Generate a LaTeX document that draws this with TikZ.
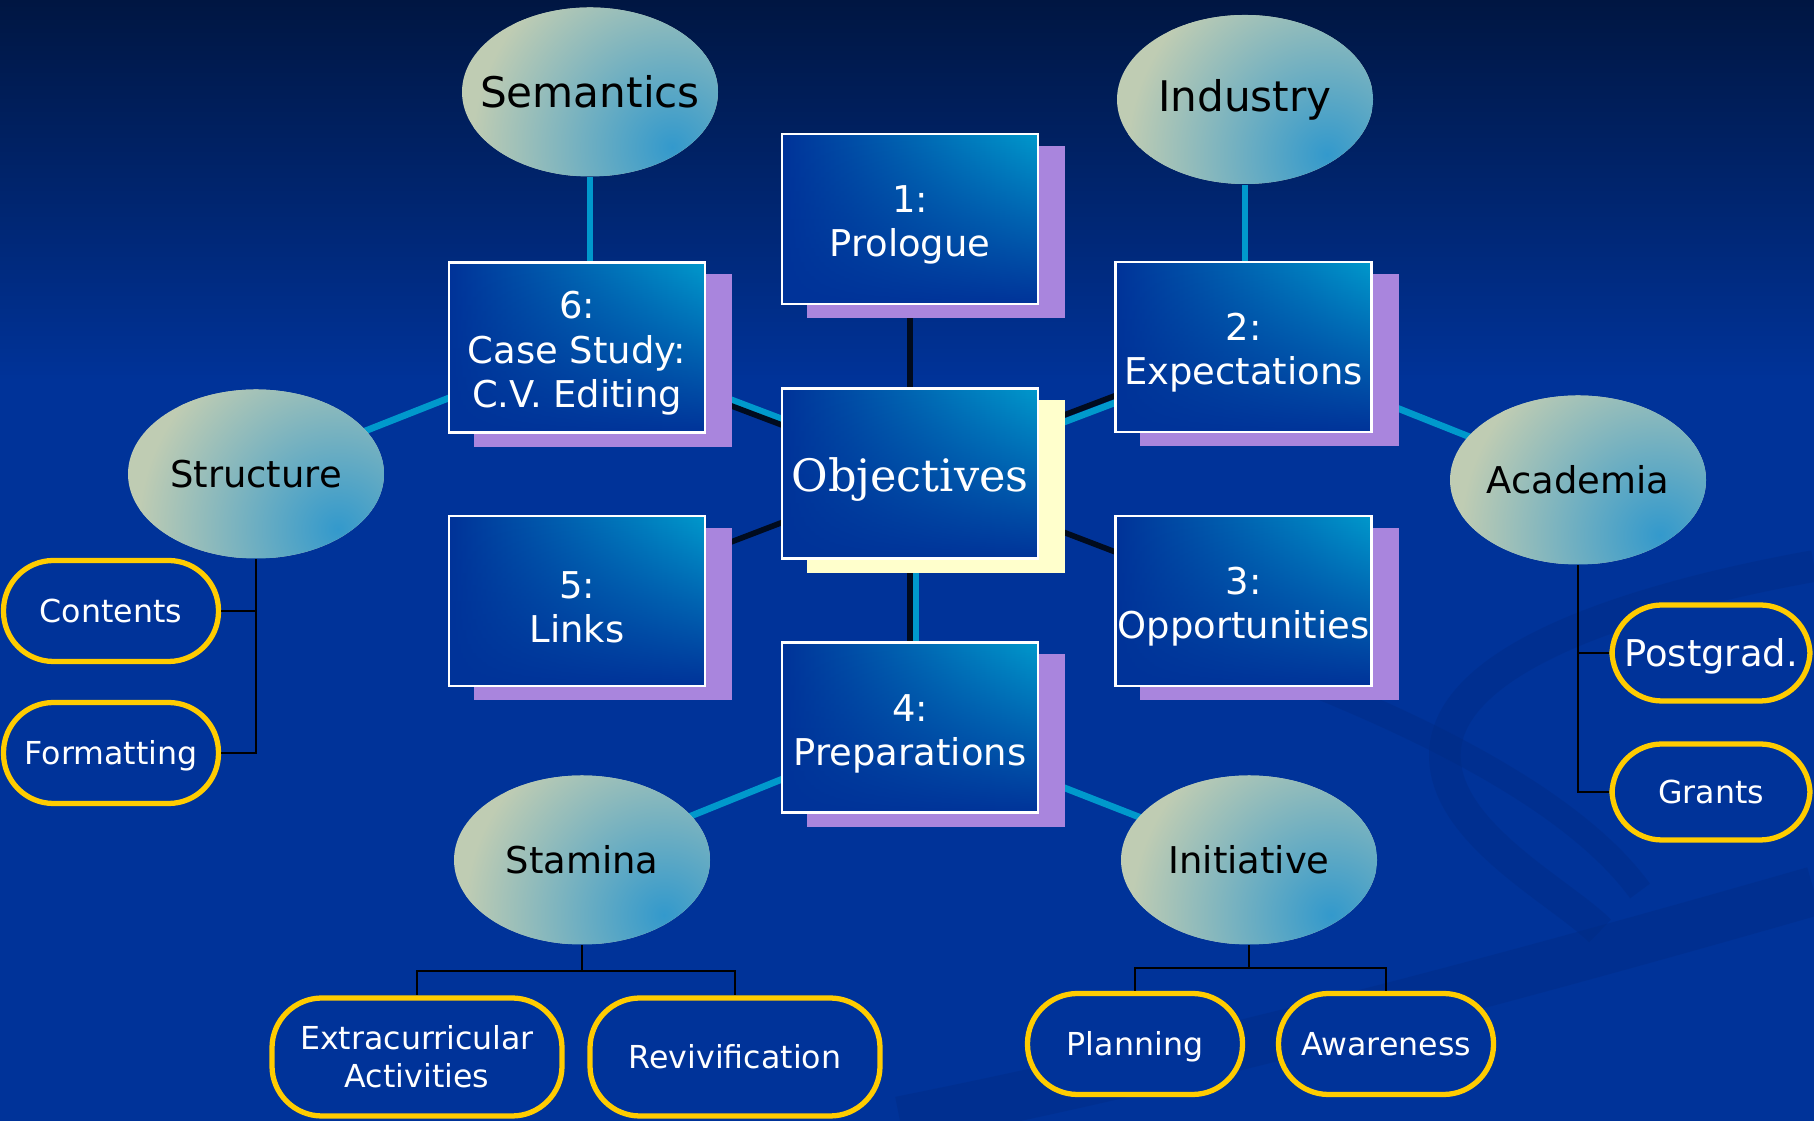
\documentclass[tikz,border=0pt]{standalone}
\usepackage{fontspec}
\setmainfont{DejaVu Sans}
\newfontfamily\objfont{DejaVu Serif}
\usetikzlibrary{shapes,fadings}
\definecolor{bgblue}{HTML}{003399}
\definecolor{bgtop}{HTML}{001642}
\definecolor{swirlblue}{HTML}{002A80}
\definecolor{boxcyan}{HTML}{0099CC}
\definecolor{lilac}{HTML}{A985DD}
\definecolor{cream}{HTML}{FFFFCC}
\definecolor{sage}{HTML}{BFCCB3}
\definecolor{ballcyan}{HTML}{3399CC}
\definecolor{linkcyan}{HTML}{0099CC}
\definecolor{linkdark}{HTML}{000B1E}
\definecolor{pillgold}{HTML}{FFCC00}
\newcommand{\topicstrut}{\rule{0pt}{0.39cm}}
\pgfdeclarelayer{bg}
\pgfdeclarelayer{links}
\pgfdeclarelayer{shade}
\pgfsetlayers{bg,links,shade,main}
\tikzset{
  topic/.style={rectangle, minimum width=2.56cm, minimum height=1.70cm, inner sep=0pt,
    draw=white, line width=0.7pt, text=white, align=center,
    font=\fontsize{10.5}{12.6}\selectfont,
    path picture={
      \shade[left color=bgblue, right color=boxcyan] (path picture bounding box.south west) rectangle (path picture bounding box.north east);
      \fill[bgblue, path fading=north] (path picture bounding box.south west) rectangle (path picture bounding box.north east);
    }},
  ball/.style={ellipse, minimum width=2.56cm, minimum height=1.69cm, inner xsep=-0.6cm, inner ysep=0pt,
    text=black, font=\fontsize{10.5}{12.6}\selectfont,
    path picture={
      \fill[sage] (path picture bounding box.south west) rectangle (path picture bounding box.north east);
      \shade[inner color=ballcyan, outer color=sage] ([shift={(0.82,-0.55)}]path picture bounding box.center) circle (2.0cm);
    }},
  bigball/.style={ball, font=\fontsize{12}{14.4}\selectfont},
  leaf/.style={rectangle, rounded corners=0.5cm, draw=pillgold, line width=1.5pt, fill=bgblue,
    text=white, align=center, minimum width=2.15cm, minimum height=1.01cm, inner sep=0pt,
    text height=6.6pt, text depth=0pt, font=\fontsize{9}{10.8}\selectfont},
  cyanlink/.style={draw=linkcyan, line width=1.9pt},
  darklink/.style={draw=linkdark, line width=1.6pt},
  branch/.style={draw=black, line width=0.6pt},
  swirl/.style={draw=swirlblue, opacity=0.35}
}
\begin{document}
\begin{tikzpicture}
\useasboundingbox (0,0) rectangle (18.14,11.21);

% numbered boxes
\node[topic, font=\objfont\fontsize{12.7}{15}\selectfont] (obj) at (9.10,6.475) {\rule{0pt}{0.46cm}Objectives}; % centre box
\node[topic] (b1) at (9.10,9.02) {\topicstrut 1:\\Prologue};
\node[topic] (b2) at (12.435,7.74) {\topicstrut 2:\\Expectations};
\node[topic] (b3) at (12.435,5.20) {\topicstrut 3:\\Opportunities};
\node[topic] (b4) at (9.10,3.935) {\topicstrut 4:\\Preparations};
\node[topic] (b5) at (5.77,5.20) {\topicstrut 5:\\Links};
\node[topic] (b6) at (5.77,7.735) {\topicstrut 6:\\Case Study:\\C.V. Editing};

% ellipses
\node[bigball] (sem) at (5.90,10.29) {Semantics};
\node[bigball] (ind) at (12.45,10.215) {Industry};
\node[ball] (str) at (2.56,6.47) {Structure};
\node[ball] (aca) at (15.78,6.41) {Academia};
\node[ball] (sta) at (5.82,2.61) {Stamina};
\node[ball] (ini) at (12.49,2.61) {Initiative};

% leaves
\node[leaf] (con) at (1.11,5.10) {Contents};
\node[leaf] (fmt) at (1.11,3.68) {Formatting};
\node[leaf, minimum width=1.98cm, minimum height=0.96cm, text height=7.7pt, font=\fontsize{10.5}{12.6}\selectfont] (pgr) at (17.11,4.68) {Postgrad.};
\node[leaf, minimum width=1.98cm, minimum height=0.96cm] (gra) at (17.11,3.29) {Grants};
\node[leaf, minimum width=2.90cm, minimum height=1.18cm, text height=, text depth=] (ext) at (4.17,0.64) {Extracurricular\\Activities};
\node[leaf, minimum width=2.90cm, minimum height=1.18cm] (rev) at (7.35,0.64) {Revivification};
\node[leaf] (pla) at (11.35,0.77) {Planning};
\node[leaf] (awa) at (13.86,0.77) {Awareness};

% tree branches
\draw[branch] (str.south) |- (con.east);
\draw[branch] (str.south) |- (fmt.east);
\draw[branch] (aca.south) |- (pgr.west);
\draw[branch] (aca.south) |- (gra.west);
\draw[branch] (sta.south) -- ++(0,-0.26) -| (ext.north);
\draw[branch] (sta.south) -- ++(0,-0.26) -| (rev.north);
\draw[branch] (ini.south) -- ++(0,-0.23) -| (pla.north);
\draw[branch] (ini.south) -- ++(0,-0.23) -| (awa.north);

\begin{pgfonlayer}{links}
  \draw[cyanlink] (sem.south) -- (sem.south |- b6.north); % semantics
  \draw[cyanlink] (ind.south) -- (ind.south |- b2.north); % industry
  \draw[cyanlink] (b6.center) -- (str.center);
  \draw[cyanlink] (b2.center) -- (aca.center);
  \draw[cyanlink] (b4.center) -- (sta.center);
  \draw[cyanlink] (b4.center) -- (ini.center);
  \draw[cyanlink] ([yshift=0.06cm]b6.center) -- ([yshift=0.06cm]obj.center);
  \draw[cyanlink] ([yshift=-0.07cm]obj.center) -- ([yshift=-0.07cm]b2.center);
  \draw[cyanlink] ([xshift=0.06cm]obj.center) -- ([xshift=0.06cm]b4.center);
  \foreach \b in {b1,b2,b3,b4,b5,b6}
    \draw[darklink] (obj.center) -- (\b.center);
\end{pgfonlayer}

\begin{pgfonlayer}{shade}
  \foreach \b in {b1,b2,b3,b4,b5,b6}
    \fill[lilac] ([shift={(0.26,-0.13)}]\b.south west) rectangle ([shift={(0.26,-0.13)}]\b.north east);
  \fill[cream] ([shift={(0.26,-0.13)}]obj.south west) rectangle ([shift={(0.26,-0.13)}]obj.north east);
\end{pgfonlayer}

\begin{pgfonlayer}{bg}
  \fill[bgblue] (0,0) rectangle (18.14,11.21);
  \shade[top color=bgtop, bottom color=bgblue] (0,7.4) rectangle (18.14,11.21);
  \draw[swirl, line width=9pt] (18.14,5.55) .. controls (16.2,5.2) and (14.5,4.6) .. (14.45,3.7) .. controls (14.4,2.9) and (15.6,2.3) .. (16.0,1.9);
  \draw[swirl, line width=7pt] (11.4,5.0) .. controls (13.5,4.3) and (15.6,3.4) .. (16.4,2.3);
  \draw[swirl, line width=14pt] (9.0,0) .. controls (12,0.6) and (15,1.4) .. (18.14,2.3);
\end{pgfonlayer}
\end{tikzpicture}
\end{document}
